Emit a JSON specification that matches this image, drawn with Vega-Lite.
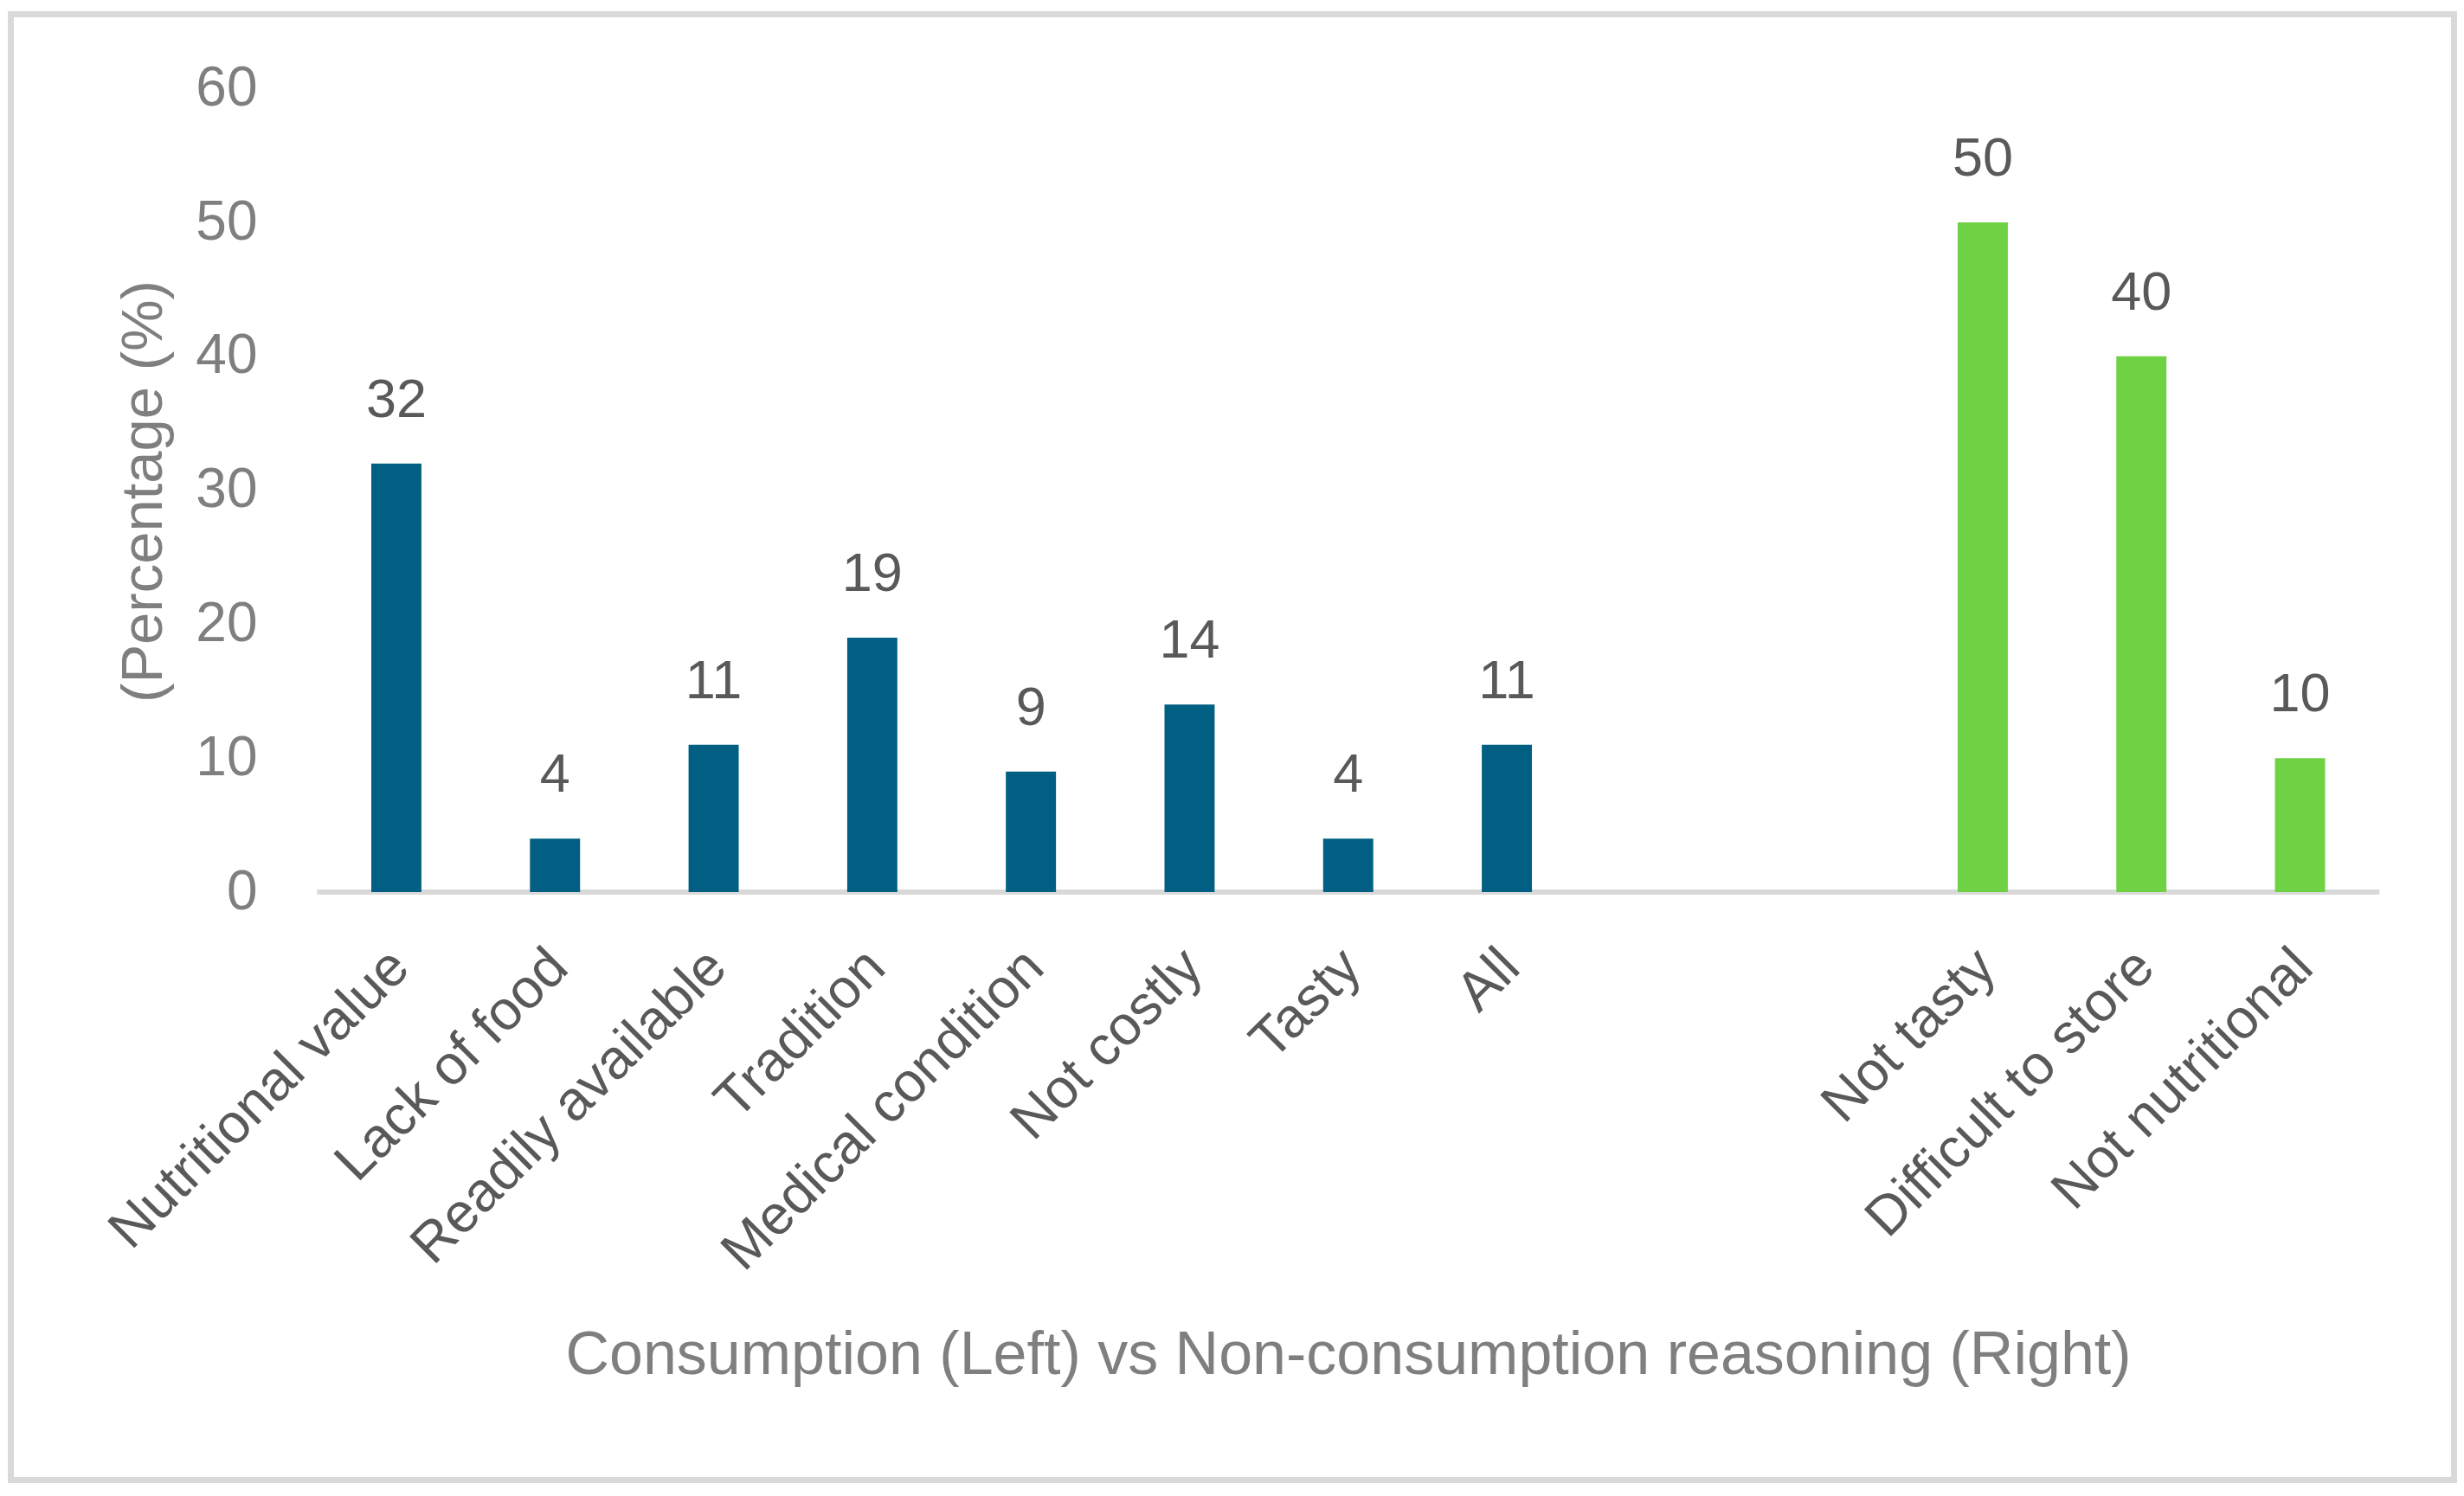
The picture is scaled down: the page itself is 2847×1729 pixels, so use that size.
{
  "$schema": "https://vega.github.io/schema/vega-lite/v6.json",
  "width": 2847,
  "height": 1729,
  "autosize": {"type": "fit", "contains": "padding"},
  "padding": {"left": 12.5, "top": 16.5, "right": 11.5, "bottom": 18.5},
  "background": "white",
  "config": {
    "view": {"stroke": "#D9D9D9", "strokeWidth": 7},
    "font": "Liberation Sans"
  },
  "datasets": {
    "bars": [
      {"reason": "Nutritional value", "pct": 32, "group": "Consumption"},
      {"reason": "Lack of food", "pct": 4, "group": "Consumption"},
      {"reason": "Readily available", "pct": 11, "group": "Consumption"},
      {"reason": "Tradition", "pct": 19, "group": "Consumption"},
      {"reason": "Medical condition", "pct": 9, "group": "Consumption"},
      {"reason": "Not costly", "pct": 14, "group": "Consumption"},
      {"reason": "Tasty", "pct": 4, "group": "Consumption"},
      {"reason": "All", "pct": 11, "group": "Consumption"},
      {"reason": "Not tasty", "pct": 50, "group": "Non-consumption"},
      {"reason": "Difficult to store", "pct": 40, "group": "Non-consumption"},
      {"reason": "Not nutritional", "pct": 10, "group": "Non-consumption"}
    ],
    "baseline": [
      {"from": "Nutritional value", "to": "Not nutritional", "v": 0}
    ]
  },
  "encoding": {
    "x": {
      "field": "reason",
      "type": "nominal",
      "sort": null,
      "scale": {
        "domain": ["gap0", "Nutritional value", "Lack of food", "Readily available", "Tradition", "Medical condition", "Not costly", "Tasty", "All", "gap1", "gap2", "Not tasty", "Difficult to store", "Not nutritional"],
        "paddingInner": 0,
        "paddingOuter": 0.7005,
        "align": 0.664
      },
      "axis": {
        "domain": false,
        "ticks": false,
        "grid": false,
        "offset": -679.5,
        "labelAngle": -45,
        "labelAlign": "right",
        "labelBaseline": "top",
        "labelPadding": 54,
        "labelOffset": -18,
        "labelFontSize": 64,
        "labelColor": "#595959",
        "labelLimit": 2000,
        "labelOverlap": false,
        "labelExpr": "indexof(datum.value, 'gap') == 0 ? '' : datum.value",
        "title": "Consumption (Left) vs Non-consumption reasoning (Right)",
        "titleFontSize": 70,
        "titleFontWeight": "normal",
        "titleColor": "#7F7F7F",
        "titleLimit": 3000,
        "titleX": 1545,
        "titleY": 556,
        "titleAlign": "center",
        "titleBaseline": "alphabetic"
      }
    },
    "y": {
      "type": "quantitative",
      "scale": {"domain": [-43.89, 65.54], "nice": false, "zero": false},
      "axis": {
        "values": [0, 10, 20, 30, 40, 50, 60],
        "domain": false,
        "ticks": false,
        "tickSize": 0,
        "grid": false,
        "offset": -284.5,
        "labelPadding": 0,
        "labelFontSize": 64,
        "labelColor": "#7F7F7F",
        "title": "(Percentage (%)",
        "titleFontSize": 67,
        "titleFontWeight": "normal",
        "titleColor": "#7F7F7F",
        "titleLimit": 3000,
        "titleX": -131,
        "titleY": 551,
        "titleAlign": "center",
        "titleBaseline": "middle"
      }
    }
  },
  "layer": [
    {
      "data": {"name": "baseline"},
      "mark": {"type": "rule", "color": "#D9D9D9", "strokeWidth": 6},
      "encoding": {
        "x": {"field": "from", "type": "nominal", "bandPosition": 0},
        "x2": {"field": "to", "bandPosition": 1},
        "y": {"field": "v", "type": "quantitative"}
      }
    },
    {
      "data": {"name": "bars"},
      "mark": {"type": "bar", "width": {"band": 0.316}},
      "encoding": {
        "y": {"field": "pct", "type": "quantitative"},
        "color": {
          "field": "group",
          "type": "nominal",
          "scale": {"domain": ["Consumption", "Non-consumption"], "range": ["#005F82", "#6FD144"]},
          "legend": null
        }
      }
    },
    {
      "data": {"name": "bars"},
      "mark": {"type": "text", "baseline": "alphabetic", "align": "center", "dy": -54, "fontSize": 63, "color": "#595959"},
      "encoding": {
        "y": {"field": "pct", "type": "quantitative"},
        "text": {"field": "pct", "type": "quantitative"}
      }
    }
  ]
}
